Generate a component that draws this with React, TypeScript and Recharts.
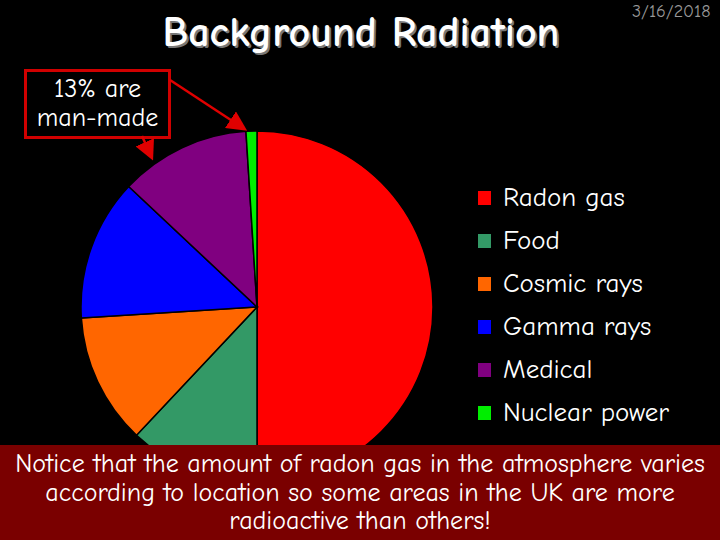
import { Cell, Legend, Pie, PieChart } from 'recharts';

const sources = ['Radon gas', 'Food', 'Cosmic rays', 'Gamma rays', 'Medical', 'Nuclear power'];
const shares = [50, 12, 12, 13, 12, 1];
const colors = ['#ff0000', '#339966', '#ff6600', '#0000ff', '#800080', '#00ee00'];

const data = sources.map((name, i) => ({ name, value: shares[i] }));

const FONT = '"Comic Sans MS", "Comic Neue", "DejaVu Sans", sans-serif';

// legend in slice order, not the default alphabetical sort
function SourceLegend() {
  return (
    <ul style={{ listStyle: 'none', margin: 0, padding: 0 }}>
      {sources.map((name, i) => (
        <li
          key={name}
          style={{ display: 'flex', alignItems: 'center', height: 43, color: '#fff', fontSize: 27, fontFamily: FONT }}
        >
          <span
            style={{ width: 13, height: 14, background: colors[i], marginRight: 12, display: 'inline-block' }}
          />
          {name}
        </li>
      ))}
    </ul>
  );
}

export default function App() {
  return (
    <div style={{ position: 'relative', width: 720, height: 540, background: '#000', overflow: 'hidden', fontFamily: FONT }}>
      <style>{'body{margin:0;background:#000}'}</style>
      <div style={{ position: 'absolute', left: 0, top: 0 }}>
        <PieChart width={720} height={540} margin={{ top: 0, right: 0, bottom: 0, left: 0 }}>
          <Pie
            data={data}
            dataKey="value"
            nameKey="name"
            cx={257}
            cy={307}
            outerRadius={176}
            startAngle={90}
            endAngle={-270}
            stroke="#000"
            strokeWidth={1.5}
            isAnimationActive={false}
          >
            {data.map((d, i) => (
              <Cell key={d.name} fill={colors[i]} />
            ))}
          </Pie>
          <Legend
            layout="vertical"
            content={<SourceLegend />}
            wrapperStyle={{ left: 478, top: 176, width: 240 }}
          />
        </PieChart>
      </div>

      <div
        style={{
          position: 'absolute', left: 140, width: 442, top: 8, textAlign: 'center', whiteSpace: 'nowrap',
          fontSize: 42, fontWeight: 'bold', color: '#fff', textShadow: '2px 2px 0 #777',
        }}
      >
        Background Radiation
      </div>
      <div style={{ position: 'absolute', left: 632, top: 1, fontSize: 18, color: '#999' }}>3/16/2018</div>

      <div
        style={{
          position: 'absolute', left: 24, top: 69, width: 141, height: 61, border: '3px solid #d00000',
          color: '#fff', fontSize: 26, lineHeight: '29px', textAlign: 'center', paddingTop: 3, whiteSpace: 'nowrap',
        }}
      >
        13% are
        <br />
        man-made
      </div>
      <svg width={720} height={540} style={{ position: 'absolute', left: 0, top: 0, pointerEvents: 'none' }}>
        <defs>
          <marker id="head" markerWidth="8" markerHeight="8" refX="6" refY="4" orient="auto" markerUnits="strokeWidth">
            <path d="M0,0 L8,4 L0,8 z" fill="#e00000" />
          </marker>
        </defs>
        <line x1={170} y1={80} x2={243} y2={128} stroke="#e00000" strokeWidth={2.5} markerEnd="url(#head)" />
        <line x1={142} y1={136} x2={151} y2={156} stroke="#e00000" strokeWidth={2.5} markerEnd="url(#head)" />
      </svg>

      <div
        style={{
          position: 'absolute', left: 0, top: 445, width: 720, height: 95, background: '#7a0000',
          color: '#fff', fontSize: 26, lineHeight: '28.5px', textAlign: 'center', paddingTop: 5,
          boxSizing: 'border-box', whiteSpace: 'nowrap',
        }}
      >
        Notice that the amount of radon gas in the atmosphere varies
        <br />
        according to location so some areas in the UK are more
        <br />
        radioactive than others!
      </div>
    </div>
  );
}
